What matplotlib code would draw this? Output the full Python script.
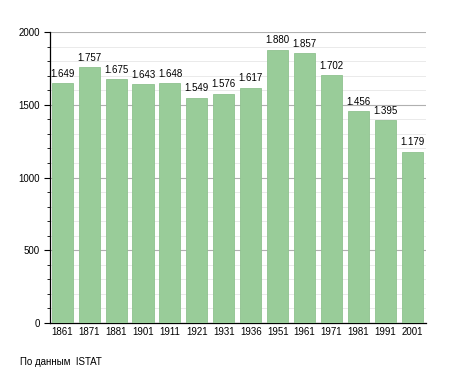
import numpy as np
import matplotlib.pyplot as plt
from matplotlib.ticker import MultipleLocator

plt.rcParams['font.family'] = ['Liberation Sans', 'DejaVu Sans']

years = ['1861', '1871', '1881', '1901', '1911', '1921', '1931', '1936',
         '1951', '1961', '1971', '1981', '1991', '2001']
population = [1649, 1757, 1675, 1643, 1648, 1549, 1576, 1617,
              1880, 1857, 1702, 1456, 1395, 1179]
labels = ['1.649', '1.757', '1.675', '1.643', '1.648', '1.549', '1.576', '1.617',
          '1.880', '1.857', '1.702', '1.456', '1.395', '1.179']

fig = plt.figure(figsize=(4.55, 3.73), dpi=100)
ax = fig.add_axes([0.110, 0.134, 0.826, 0.780])

x = np.arange(len(years))
ax.bar(x, population, width=0.78, color='#99cc99', edgecolor='#8fc28f', linewidth=0.6, zorder=3)
for xi, v, lab in zip(x, population, labels):
    ax.text(xi, v + 30, lab, ha='center', va='bottom', fontsize=7, zorder=4)

ax.set_xlim(-0.45, 13.5)
ax.set_ylim(0, 2000)
ax.set_xticks(x)
ax.set_xticklabels(years, fontsize=7)
ax.yaxis.set_major_locator(MultipleLocator(500))
ax.yaxis.set_minor_locator(MultipleLocator(100))
ax.tick_params(axis='y', labelsize=7, length=4, width=0.8)
ax.tick_params(axis='y', which='minor', length=2.5, width=0.6)
ax.tick_params(axis='x', length=0, pad=3)
ax.grid(axis='y', which='major', color='#b0b0b0', linewidth=0.8, zorder=0)
ax.grid(axis='y', which='minor', color='#e6e6e6', linewidth=0.6, zorder=0)
for s in ['top', 'right']:
    ax.spines[s].set_visible(False)
ax.spines['left'].set_linewidth(0.9)
ax.spines['bottom'].set_linewidth(0.9)

fig.text(20 / 455, 1 - 362 / 373, 'По данным  ISTAT', fontsize=7, va='center')

fig.savefig('out.png', dpi=100)
